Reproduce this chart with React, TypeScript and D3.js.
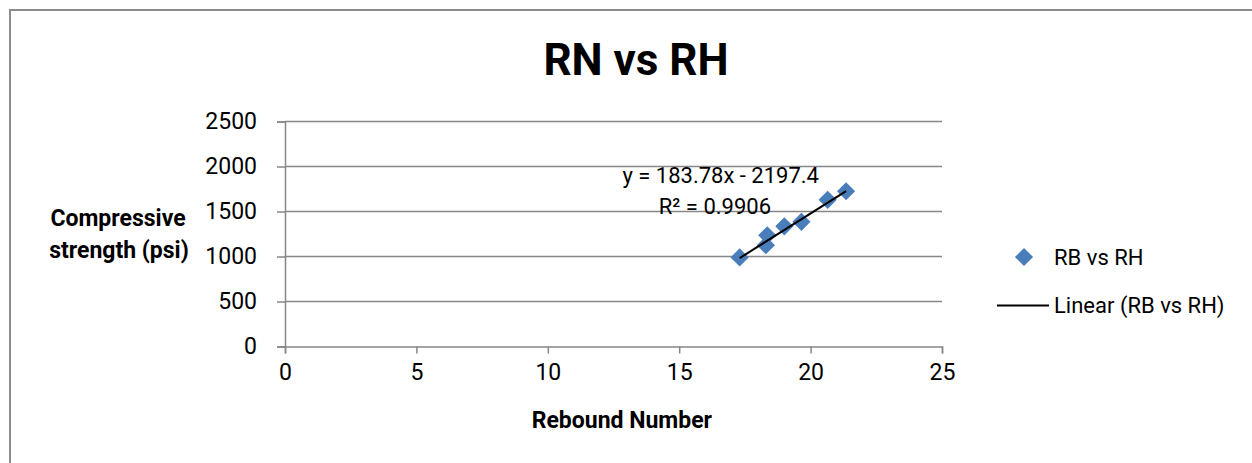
import React, { useEffect, useRef } from "react";
import * as d3 from "d3";

// Rebound number vs compressive strength readings
const reboundNumbers = [17.3, 18.3, 18.35, 19.0, 19.65, 20.65, 21.35];
const strengths = [990, 1125, 1235, 1335, 1385, 1630, 1725];
const xTicks = [0, 5, 10, 15, 20, 25];
const yTicks = [0, 500, 1000, 1500, 2000, 2500];
const slope = 183.78;
const intercept = -2197.4;
const rSquared = "0.9906";
const seriesName = "RB vs RH";

const W = 1252;
const H = 463;
const FONT = "Roboto, 'Liberation Sans', sans-serif";

const App: React.FC = () => {
  const svgRef = useRef<SVGSVGElement | null>(null);

  useEffect(() => {
    if (!svgRef.current) return;
    const svg = d3.select(svgRef.current);
    svg.selectAll("*").remove();

    const x = d3.scaleLinear().domain([0, 25]).range([285, 942]);
    const y = d3.scaleLinear().domain([0, 2500]).range([346.5, 121.5]);
    const grey = "#878787";

    // chart frame (cut off on right and bottom)
    svg
      .append("rect")
      .attr("x", 10)
      .attr("y", 10)
      .attr("width", W + 20)
      .attr("height", H + 20)
      .attr("fill", "white")
      .attr("stroke", "#8c8c8c")
      .attr("stroke-width", 2);

    // title
    svg
      .append("text")
      .attr("x", 636)
      .attr("y", 75)
      .attr("text-anchor", "middle")
      .attr("font-family", FONT)
      .attr("font-size", 44)
      .attr("font-weight", "bold")
      .text("RN vs RH");

    // gridlines
    svg
      .append("g")
      .selectAll("line")
      .data(yTicks.filter((d) => d > 0))
      .join("line")
      .attr("x1", x(0))
      .attr("x2", x(25))
      .attr("y1", (d) => y(d))
      .attr("y2", (d) => y(d))
      .attr("stroke", grey)
      .attr("stroke-width", 1.5);

    // y axis
    const yAxis = svg
      .append("g")
      .attr("transform", `translate(${x(0)},0)`)
      .call(
        d3
          .axisLeft(y)
          .tickValues(yTicks)
          .tickFormat(d3.format("d") as any)
          .tickSize(8)
          .tickPadding(20)
      );
    yAxis.select(".domain").attr("stroke", grey).attr("stroke-width", 1.5);
    yAxis.selectAll(".tick line").attr("stroke", grey).attr("stroke-width", 1.5);
    yAxis
      .selectAll(".tick text")
      .attr("font-family", FONT)
      .attr("font-size", 23)
      .attr("fill", "black");

    // x axis
    const xAxis = svg
      .append("g")
      .attr("transform", `translate(0,${y(0)})`)
      .call(d3.axisBottom(x).tickValues(xTicks).tickSize(7).tickPadding(10));
    xAxis.select(".domain").attr("stroke", grey).attr("stroke-width", 1.5);
    xAxis.selectAll(".tick line").attr("stroke", grey).attr("stroke-width", 1.5);
    xAxis
      .selectAll(".tick text")
      .attr("font-family", FONT)
      .attr("font-size", 23)
      .attr("fill", "black");

    // axis titles
    const yTitle = svg
      .append("text")
      .attr("text-anchor", "middle")
      .attr("font-family", FONT)
      .attr("font-size", 23)
      .attr("font-weight", "bold");
    yTitle.append("tspan").attr("x", 118).attr("y", 226).text("Compressive");
    yTitle.append("tspan").attr("x", 119).attr("y", 258).text("strength (psi)");

    svg
      .append("text")
      .attr("x", 712)
      .attr("y", 428)
      .attr("text-anchor", "end")
      .attr("font-family", FONT)
      .attr("font-size", 23)
      .attr("font-weight", "bold")
      .text("Rebound Number");

    const diamond = d3.symbol().type(d3.symbolSquare).size(165);

    // points
    svg
      .append("g")
      .selectAll("path")
      .data(reboundNumbers.map((r, i) => [r, strengths[i]]))
      .join("path")
      .attr("d", diamond)
      .attr("transform", (d) => `translate(${x(d[0])},${y(d[1])}) rotate(45)`)
      .attr("fill", "#4a7ebb");

    // linear trendline
    const xMin = d3.min(reboundNumbers) as number;
    const xMax = d3.max(reboundNumbers) as number;
    svg
      .append("line")
      .attr("x1", x(xMin))
      .attr("y1", y(slope * xMin + intercept))
      .attr("x2", x(xMax))
      .attr("y2", y(slope * xMax + intercept))
      .attr("stroke", "black")
      .attr("stroke-width", 2);

    // trendline equation
    const eq = svg
      .append("text")
      .attr("font-family", FONT)
      .attr("font-size", 22)
      .attr("text-anchor", "end")
      .attr("fill", "black");
    eq.append("tspan").attr("x", 819).attr("y", 183).text(`y = ${slope}x - ${Math.abs(intercept)}`);
    eq.append("tspan").attr("x", 771).attr("y", 214).text(`R² = ${rSquared}`);

    // legend
    const legend = svg.append("g").attr("font-family", FONT).attr("font-size", 22);
    legend
      .append("path")
      .attr("d", diamond)
      .attr("transform", "translate(1024,257) rotate(45)")
      .attr("fill", "#4a7ebb");
    legend.append("text").attr("x", 1054).attr("y", 265).text(seriesName);
    legend
      .append("line")
      .attr("x1", 997)
      .attr("x2", 1049)
      .attr("y1", 305.5)
      .attr("y2", 305.5)
      .attr("stroke", "black")
      .attr("stroke-width", 2);
    legend.append("text").attr("x", 1054).attr("y", 313).text(`Linear (${seriesName})`);
  }, []);

  return (
    <svg
      ref={svgRef}
      width={W}
      height={H}
      style={{ position: "fixed", left: 0, top: 0, background: "white" }}
    />
  );
};

export default App;
